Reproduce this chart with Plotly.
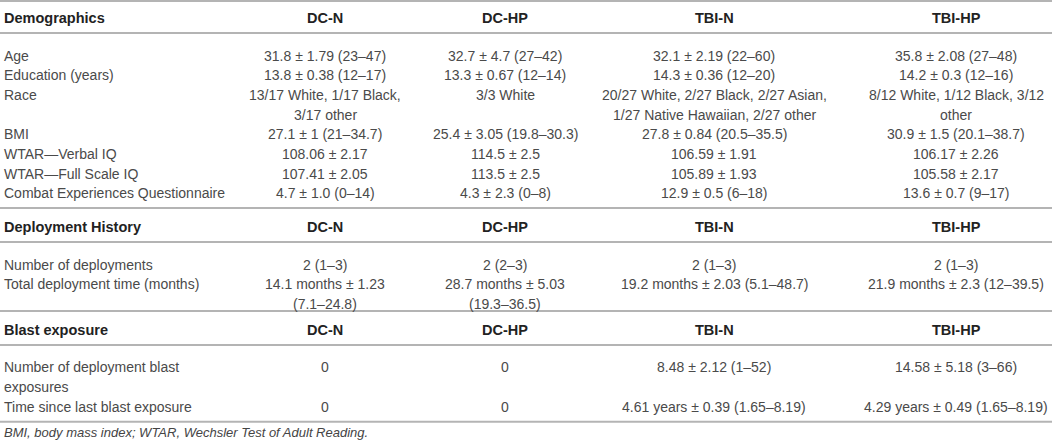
import plotly.graph_objects as go

### table content ###

groups = ["DC-N", "DC-HP", "TBI-N", "TBI-HP"]

demo_labels = ["Age", "Education (years)", "Race", "BMI", "WTAR\u2014Verbal IQ",
               "WTAR\u2014Full Scale IQ", "Combat Experiences Questionnaire"]
demo_dcn = ["31.8 \u00b1 1.79 (23\u201347)", "13.8 \u00b1 0.38 (12\u201317)",
            "13/17 White, 1/17 Black,<br>3/17 other", "27.1 \u00b1 1 (21\u201334.7)",
            "108.06 \u00b1 2.17", "107.41 \u00b1 2.05", "4.7 \u00b1 1.0 (0\u201314)"]
demo_dchp = ["32.7 \u00b1 4.7 (27\u201342)", "13.3 \u00b1 0.67 (12\u201314)", "3/3 White",
             "25.4 \u00b1 3.05 (19.8\u201330.3)", "114.5 \u00b1 2.5", "113.5 \u00b1 2.5",
             "4.3 \u00b1 2.3 (0\u20138)"]
demo_tbin = ["32.1 \u00b1 2.19 (22\u201360)", "14.3 \u00b1 0.36 (12\u201320)",
             "20/27 White, 2/27 Black, 2/27 Asian,<br>1/27 Native Hawaiian, 2/27 other",
             "27.8 \u00b1 0.84 (20.5\u201335.5)", "106.59 \u00b1 1.91", "105.89 \u00b1 1.93",
             "12.9 \u00b1 0.5 (6\u201318)"]
demo_tbihp = ["35.8 \u00b1 2.08 (27\u201348)", "14.2 \u00b1 0.3 (12\u201316)",
              "8/12 White, 1/12 Black, 3/12<br>other", "30.9 \u00b1 1.5 (20.1\u201338.7)",
              "106.17 \u00b1 2.26", "105.58 \u00b1 2.17", "13.6 \u00b1 0.7 (9\u201317)"]

deploy_labels = ["Number of deployments", "Total deployment time (months)"]
deploy_dcn = ["2 (1\u20133)", "14.1 months \u00b1 1.23<br>(7.1\u201324.8)"]
deploy_dchp = ["2 (2\u20133)", "28.7 months \u00b1 5.03<br>(19.3\u201336.5)"]
deploy_tbin = ["2 (1\u20133)", "19.2 months \u00b1 2.03 (5.1\u201348.7)"]
deploy_tbihp = ["2 (1\u20133)", "21.9 months \u00b1 2.3 (12\u201339.5)"]

blast_labels = ["Number of deployment blast<br>exposures", "Time since last blast exposure"]
blast_dcn = ["0", "0"]
blast_dchp = ["0", "0"]
blast_tbin = ["8.48 \u00b1 2.12 (1\u201352)", "4.61 years \u00b1 0.39 (1.65\u20138.19)"]
blast_tbihp = ["14.58 \u00b1 5.18 (3\u201366)", "4.29 years \u00b1 0.49 (1.65\u20138.19)"]

footnote = "BMI, body mass index; WTAR, Wechsler Test of Adult Reading."

sections = [
    ("Demographics", demo_labels, [demo_dcn, demo_dchp, demo_tbin, demo_tbihp]),
    ("Deployment History", deploy_labels, [deploy_dcn, deploy_dchp, deploy_tbin, deploy_tbihp]),
    ("Blast exposure", blast_labels, [blast_dcn, blast_dchp, blast_tbin, blast_tbihp]),
]

### layout of the table (pixels, y grows downward) ###
W, H = 1052, 440
label_x = 2
col_x = [325, 505, 714, 956]
pitch = 19.7
bottom_pad = [14.6, 7.0, 15.0]
body_font = dict(family="Liberation Sans, Arial, sans-serif", size=14, color="#4a4a4a")
head_font = dict(family="Liberation Sans, Arial, sans-serif", size=14.5, color="#222222")
rule_color = "#b4b4b4"

fig = go.Figure()
annotations = []
rules = []


def add_text(x, y, text, font, anchor):
    annotations.append(dict(x=x, y=y, xref="x", yref="y", text=text, showarrow=False,
                            xanchor=anchor, yanchor="middle", font=font))


top = -1
for si, (title, labels, cols) in enumerate(sections):
    rules.append(max(top, 1))
    head_y = top + 19
    add_text(label_x, head_y, "<b>" + title + "</b>", head_font, "left")
    for g, cx in zip(groups, col_x):
        add_text(cx, head_y, "<b>" + g + "</b>", head_font, "center")
    rule_y = top + 34
    rules.append(rule_y)
    y = rule_y + 22.5
    for ri, lab in enumerate(labels):
        cells = [lab] + [c[ri] for c in cols]
        n_lines = max(len(c.split("<br>")) for c in cells)
        for li, part in enumerate(lab.split("<br>")):
            add_text(label_x, y + li * pitch, part, body_font, "left")
        for cx, c in zip(col_x, cells[1:]):
            for li, part in enumerate(c.split("<br>")):
                add_text(cx, y + li * pitch, part, body_font, "center")
        y += n_lines * pitch
    top = y - pitch + bottom_pad[si]
rules.append(top)

# footnote under the last rule, kept inside the page
add_text(label_x, top + 10.5, "<i>" + footnote + "</i>",
         dict(family="Liberation Sans, Arial, sans-serif", size=13, color="#444444"), "left")

for ry in rules:
    fig.add_shape(type="line", xref="paper", yref="y", x0=0, x1=1, y0=ry, y1=ry,
                  line=dict(color=rule_color, width=2))

fig.update_layout(
    width=W, height=H,
    margin=dict(l=0, r=0, t=0, b=0),
    paper_bgcolor="white", plot_bgcolor="white",
    annotations=annotations,
    showlegend=False,
    xaxis=dict(range=[0, W], visible=False, fixedrange=True),
    yaxis=dict(range=[H, 0], visible=False, fixedrange=True),
    hovermode=False,
)

# page has a default 8px body margin, drop it so the figure sits at 0,0
fig.write_html("out.html", config={"displayModeBar": False},
               post_script="document.body.style.margin='0';document.body.style.overflow='hidden';")
